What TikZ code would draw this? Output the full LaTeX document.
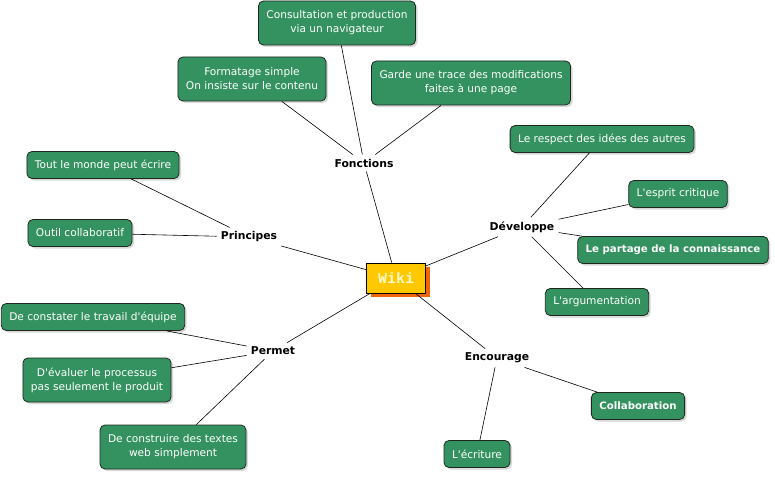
\documentclass[tikz,border=0pt]{standalone}
\usepackage{fontspec}
\setmainfont{DejaVu Sans}[Ligatures=TeXOff]
\newfontfamily\wikifont{Liberation Mono}
\usetikzlibrary{shadows}

\definecolor{boxgreen}{RGB}{52,146,96}
\definecolor{boxedge}{RGB}{30,40,30}
\definecolor{wikiyellow}{RGB}{255,200,0}
\definecolor{wikishadow}{RGB}{240,102,10}
\definecolor{wikitext}{RGB}{255,250,200}

\begin{document}
\begin{tikzpicture}[
        x=1pt, y=-1pt,
        leaf/.style={draw=boxedge, fill=boxgreen, text=white, rounded corners=5pt,
            align=center, font=\fontsize{10.6}{14}\selectfont, inner xsep=8pt,
            minimum height=27pt, line width=0.8pt,
            drop shadow={shadow xshift=2pt, shadow yshift=-2pt, fill=black!30}},
        twoline/.style={leaf, minimum height=44pt},
        keyleaf/.style={leaf, font=\fontsize{10.2}{14}\selectfont\bfseries},
        branch/.style={font=\fontsize{10.8}{14}\selectfont\bfseries, inner sep=4pt},
        wiki/.style={draw=black, fill=wikiyellow, text=wikitext, line width=0.8pt,
            font=\fontsize{15}{16}\selectfont\wikifont\bfseries,
            minimum width=59pt, minimum height=30pt,
            drop shadow={shadow xshift=4pt, shadow yshift=-4pt, fill=wikishadow, opacity=1}},
        every path/.style={line width=0.6pt}
    ]
    \useasboundingbox (0,0) rectangle (775,476);

    \node[wiki] (wiki) at (396,278) {Wiki};

    % branches
    \node[branch] (fonctions) at (364,163) {Fonctions};
    \node[branch] (principes) at (249,237) {Principes};
    \node[branch] (developpe) at (522,227) {Développe};
    \node[branch] (permet) at (273,351) {Permet};
    \node[branch] (encourage) at (497,358) {Encourage};

    % leaves
    \node[twoline] (consult) at (337,23) {Consultation et production\\via un navigateur};
    \node[twoline] (formatage) at (252,79) {Formatage simple\\On insiste sur le contenu};
    \node[twoline] (trace) at (471,83) {Garde une trace des modifications\\faites à une page};
    \node[leaf] (toutlemonde) at (103,165) {Tout le monde peut écrire};
    \node[leaf] (outil) at (80,233) {Outil collaboratif};
    \node[leaf] (respect) at (602,139) {Le respect des idées des autres};
    \node[leaf] (esprit) at (678,194) {L'esprit critique};
    \node[keyleaf] (partage) at (673,250) {Le partage de la connaissance};
    \node[leaf] (argument) at (597,302) {L'argumentation};
    \node[leaf] (constater) at (93,317) {De constater le travail d'équipe};
    \node[twoline] (evaluer) at (97,380) {D'évaluer le processus\\pas seulement le produit};
    \node[twoline] (construire) at (173,447) {De construire des textes\\web simplement};
    \node[keyleaf] (collab) at (638,406) {Collaboration};
    \node[leaf] (ecriture) at (477,454) {L'écriture};

    \draw (wiki) -- (fonctions);
    \draw (wiki) -- (principes);
    \draw (wiki) -- (developpe);
    \draw (wiki) -- (permet);
    \draw (wiki) -- (encourage);

    \draw (fonctions) -- (consult);
    \draw (fonctions) -- (formatage);
    \draw (fonctions) -- (trace);
    \draw (principes) -- (toutlemonde);
    \draw (principes) -- (outil);
    \draw (developpe) -- (respect);
    \draw (developpe) -- (esprit);
    \draw (developpe) -- (partage);
    \draw (developpe) -- (argument);
    \draw (permet) -- (constater);
    \draw (permet) -- (evaluer);
    \draw (permet) -- (construire);
    \draw (encourage) -- (collab);
    \draw (encourage) -- (ecriture);
\end{tikzpicture}
\end{document}
